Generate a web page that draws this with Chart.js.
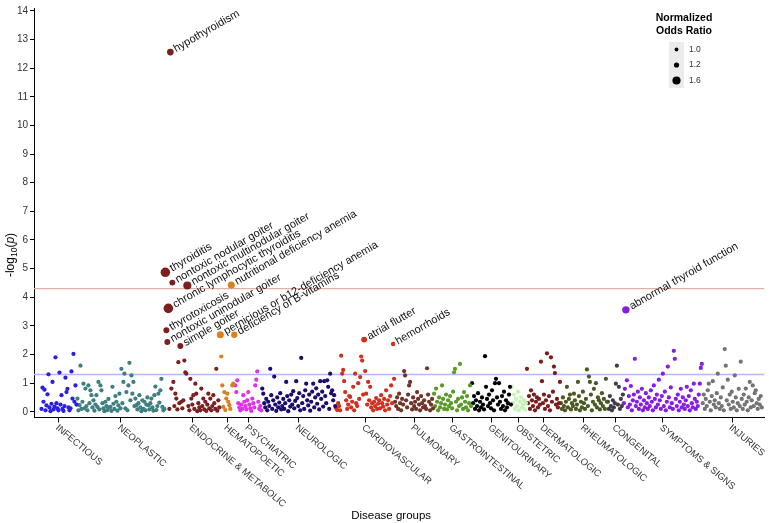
<!DOCTYPE html>
<html>
<head>
<meta charset="utf-8">
<script src="https://cdn.jsdelivr.net/npm/chart.js@4.4.1/dist/chart.umd.min.js"></script>
<style>
  body { margin: 0; background: #fff; }
  canvas { display: block; }
</style>
</head>
<body>
<canvas id="phewasCanvas" width="769" height="523"></canvas>
<script>
// disease groups, in plot order
const groupNames = ["INFECTIOUS", "NEOPLASTIC", "ENDOCRINE & METABOLIC", "HEMATOPOETIC", "PSYCHIATRIC",
  "NEUROLOGIC", "CARDIOVASCULAR", "PULMONARY", "GASTROINTESTINAL", "GENITOURINARY", "OBSTETRIC",
  "DERMATOLOGIC", "RHEUMATOLOGIC", "CONGENITAL", "SYMPTOMS & SIGNS", "INJURIES"];
const groupColors = ["#2b1ee6", "#3f7f7f", "#7b2020", "#d9801f", "#e032e8", "#1c0c70", "#d0301f", "#6e3528",
  "#5a9a28", "#000000", "#c6f3b6", "#7a1c1c", "#4a5a22", "#3e3e44", "#861ce8", "#747474"];

// -log10(p) per phecode, left to right within each group
const infectious = [0.1,0.84,0.35,0.77,0.05,0.22,0.61,1.31,0.15,0.02,0.28,1.04,0.08,0.18,1.9,0.3,0.12,0.05,1.37,0.25,0.58,0.1,0.03,0.2,1.19,0.69,0.8,0.15,0.05,0.12,1.41,0.46,2.02,0.35,0.92,0.25];
const neoplastic = [0.46,0.05,0.23,1.61,0.1,0.35,0.98,0.12,0.81,0.2,0.05,0.92,0.3,0.75,0.58,0.15,0.4,0.04,0.25,0.58,0.17,1.04,0.08,0.92,0.75,0.3,0.12,0.02,0.35,0.2,0.06,0.45,0.15,0.17,0.03,0.87,0.28,0.1,0.55,0.35,0.04,0.22,0.63,0.12,1.5,0.3,1.04,1.33,0.12,0.69,0.05,0.92,1.71,0.4,1.27,0.63,1.04,0.2,0.46,0.23,0.08,0.3,0.58,0.15,0.02,0.4,0.1,0.35,0.05,0.25,0.5,0.23,0.08,0.3,0.46,0.15,0.04,0.58,0.88,0.06,0.2,0.63,0.32,0.75,1.15,0.17,0.05,0.1];
const endocrine = [4.87,2.85,2.44,3.61,0.1,12.56,0.81,4.51,1.04,0.2,0.63,0.46,0.08,1.73,0.3,2.30,0.35,0.12,0.4,1.79,1.38,1.33,4.41,0.2,0.05,1.15,0.46,0.25,0.58,0.1,0.98,0.63,0.02,0.3,0.15,0.05,0.81,0.2,0.46,0.08,0.35,0.03,0.25,0.63,0.12,0.46,0.05,0.2,0.58,0.3,0.1,1.5,0.04,0.4,0.15];
const hematopoetic = [2.69,1.93,0.92,0.17,0.69,0.06,0.46,0.63,0.35,0.23,0.1,4.43,0.92,0.98,2.69];
const psychiatric = [0.92,0.69,1.1,0.3,0.15,0.05,0.25,0.1,0.58,0.35,0.2,0.08,0.4,0.69,0.25,0.12,0.03,0.46,0.3,0.15,0.92,1.12,1.41,0.35,0.1,0.2,0.05];
const neurologic = [0.81,0.63,0.3,0.15,0.45,0.05,0.35,0.2,1.5,0.58,0.1,0.4,1.23,0.25,0.03,0.5,0.15,0.32,0.65,0.08,0.2,0.45,0.1,0.3,1.04,0.55,0.02,0.4,0.18,0.6,0.25,0.72,0.12,0.38,1.07,0.48,0.2,0.65,0.05,1.88,0.3,0.55,0.1,0.75,0.98,0.4,0.22,0.6,0.04,0.35,0.7,0.98,0.15,0.5,0.82,0.28,0.6,0.08,1.07,0.45,0.7,0.18,1.07,0.55,0.3,1.1,0.87,0.1,1.33,0.65,0.75,0.4,0.58,0.2];
const cardiovascular = [0.12,0.06,0.3,0.2,0.05,1.96,1.33,1.46,1.07,0.69,0.4,0.1,0.25,0.55,0.52,0.15,0.35,0.87,0.05,1.33,0.3,0.2,1.0,0.45,1.21,1.93,1.79,0.6,2.52,1.42,0.63,0.25,1.04,0.4,0.87,0.15,0.3,0.05,0.35,0.2,0.48,0.1,0.28,0.4,0.12,0.58,0.3,0.18,0.45,0.05,0.75,0.25,0.4,0.1,0.55,0.92,0.3,2.37,1.15];
const pulmonary = [0.35,0.2,0.5,0.1,0.63,0.3,0.05,0.45,0.25,1.42,1.27,0.4,0.15,0.6,0.92,1.04,0.3,0.08,0.5,0.2,0.35,0.1,0.69,0.45,0.25,0.05,0.55,0.3,0.15,0.4,0.2,0.1,1.52,0.6,0.35,0.05,0.25,0.45,0.12];
const gastrointestinal = [0.63,0.2,0.81,0.35,0.05,0.5,0.15,0.3,0.92,0.45,0.1,0.25,0.6,0.08,0.4,0.2,0.55,0.3,0.12,0.7,1.38,1.5,0.35,0.05,0.45,0.2,1.67,0.25,0.5,0.1,0.69,0.35,0.15,0.55,0.05,0.3,0.92,0.2];
const genitourinary = [1.0,0.3,0.55,0.1,0.4,0.2,0.65,0.05,0.35,0.15,0.5,0.25,0.08,1.94,0.87,0.45,0.2,0.6,0.3,0.12,0.75,0.4,0.05,1.0,1.15,0.5,0.25,1.0,0.35,0.1,0.55,0.2,0.7,0.05,0.4,0.15,0.3,0.6,0.87,0.25];
const obstetric = [0.87,0.3,0.6,0.1,0.45,0.2,0.7,0.05,0.35,0.5,0.15,0.25,0.4,0.08,0.3];
const dermatologic = [1.5,0.3,0.55,0.1,0.75,0.4,0.2,0.6,0.05,0.35,0.5,0.15,0.45,0.25,1.75,1.07,0.3,0.6,0.1,0.4,2.04,0.2,0.55,0.05,1.9,0.35,0.7,1.58,1.35,0.25,0.45,0.15,0.3,1.04];
const rheumatologic = [0.3,0.1,0.5,0.2,0.05,0.35,0.87,0.15,0.45,0.6,0.08,0.3,0.2,0.63,0.4,0.1,0.25,1.04,0.55,0.05,0.35,0.15,0.7,0.3,0.1,0.45,1.48,0.2,1.23,1.04,0.6,0.05,0.35,0.8,0.25,1.0,0.15,0.5,0.4,0.08,0.3,0.65,0.2,0.45,0.1,1.15,0.35];
const congenital = [0.35,0.1,0.55,0.2,0.05,0.4,0.15,0.3,0.98,1.61,0.25,0.87,0.1,0.45,0.2,0.6];
const symptoms = [0.3,0.8,3.56,1.1,0.15,0.55,0.25,0.9,0.05,0.4,0.6,1.85,0.2,0.35,0.7,0.1,0.5,0.25,0.8,0.05,0.4,0.15,0.65,0.3,0.1,0.5,0.2,0.75,0.35,0.05,0.92,0.45,0.15,0.6,0.25,1.12,0.4,0.1,0.55,1.33,0.2,0.7,0.05,0.35,1.58,0.5,0.15,0.85,0.3,0.1,2.13,1.85,0.45,0.2,0.6,0.05,0.35,0.8,0.15,0.5,0.25,0.1,0.4,0.87,0.2,0.55,0.05,0.75,0.3,0.15,0.98,0.45,0.1,0.35,0.2,0.6,0.98,1.53,1.67];
const injuries = [0.3,0.6,0.1,0.45,0.2,0.75,0.98,0.35,0.05,0.55,1.07,0.25,0.4,0.15,0.65,1.33,0.3,0.1,0.5,0.2,0.85,0.05,2.19,1.61,0.4,1.12,0.25,0.6,0.1,0.7,0.35,0.15,1.27,0.5,0.05,0.3,0.8,0.2,1.75,0.45,0.1,0.6,0.25,0.81,0.35,0.05,0.5,1.04,0.15,0.4,0.92,0.2,0.65,0.75,0.3,0.1,0.45,0.25,0.55,0.15];

const groupValues = [infectious, neoplastic, endocrine, hematopoetic, psychiatric, neurologic, cardiovascular,
  pulmonary, gastrointestinal, genitourinary, obstetric, dermatologic, rheumatologic, congenital, symptoms, injuries];

// labelled phenotypes: group number, position in group, normalized odds ratio
const labelled = [
  { name: "hypothyroidism", group: 2, i: 5, or: 1.4 },
  { name: "thyroiditis", group: 2, i: 0, or: 1.8 },
  { name: "nontoxic nodular goiter", group: 2, i: 7, or: 1.3 },
  { name: "nontoxic multinodular goiter", group: 2, i: 22, or: 1.6 },
  { name: "chronic lymphocytic thyroiditis", group: 2, i: 3, or: 1.8 },
  { name: "thyrotoxicosis", group: 2, i: 1, or: 1.3 },
  { name: "nontoxic uninodular goiter", group: 2, i: 2, or: 1.3 },
  { name: "simple goiter", group: 2, i: 15, or: 1.3 },
  { name: "nutritional deficiency anemia", group: 3, i: 11, or: 1.45 },
  { name: "pernicious or b12-deficiency anemia", group: 3, i: 0, or: 1.45 },
  { name: "deficiency of B-vitamins", group: 3, i: 14, or: 1.35 },
  { name: "atrial flutter", group: 6, i: 28, or: 1.3 },
  { name: "hemorrhoids", group: 6, i: 57, or: 1.1 },
  { name: "abnormal thyroid function", group: 14, i: 2, or: 1.5 }
];
const defaultOR = 1.06;

const significanceLines = [
  { value: 4.3, color: "#e2b0a8" },
  { value: 1.3, color: "#b6b6ff" }
];
const yTicks = [0,1,2,3,4,5,6,7,8,9,10,11,12,13,14];
const legendOR = [1.0, 1.2, 1.6];

const FONT = '"Liberation Sans", Arial, sans-serif';

function sizeFor(or) {
  return 1.9 + (or - 1) * 3.6;
}

let idx = 0;
const groupCenters = [];
const datasets = groupValues.map((vals, g) => {
  const start = idx;
  idx += vals.length;
  groupCenters.push(start + (vals.length - 1) / 2);
  const radii = vals.map((v, i) => {
    const lab = labelled.find(l => l.group === g && l.i === i);
    return sizeFor(lab ? lab.or : defaultOR);
  });
  return {
    label: groupNames[g],
    data: vals.map((v, i) => ({ x: start + i, y: v })),
    backgroundColor: groupColors[g],
    borderWidth: 0,
    pointRadius: radii,
    pointHoverRadius: radii,
    pointBorderWidth: 0
  };
});
const totalPoints = idx;

const decorPlugin = {
  id: "decor",
  beforeDatasetsDraw(chart) {
    const ctx = chart.ctx;
    const area = chart.chartArea;
    const yScale = chart.scales.y;
    ctx.save();
    ctx.lineWidth = 1.4;
    significanceLines.forEach(line => {
      const py = yScale.getPixelForValue(line.value);
      ctx.strokeStyle = line.color;
      ctx.beginPath();
      ctx.moveTo(area.left, py);
      ctx.lineTo(area.right, py);
      ctx.stroke();
    });
    ctx.restore();
  },
  afterDatasetsDraw(chart) {
    const ctx = chart.ctx;
    ctx.save();
    ctx.font = "11px " + FONT;
    ctx.fillStyle = "#111";
    ctx.textBaseline = "middle";
    ctx.textAlign = "left";
    labelled.forEach(l => {
      const el = chart.getDatasetMeta(l.group).data[l.i];
      ctx.save();
      ctx.translate(el.x, el.y);
      ctx.rotate(-30 * Math.PI / 180);
      ctx.fillText(l.name, sizeFor(l.or) + 1.5, 0);
      ctx.restore();
    });
    ctx.restore();
  },
  afterDraw(chart) {
    const ctx = chart.ctx;
    const area = chart.chartArea;
    const xScale = chart.scales.x;

    // group labels under the x axis
    ctx.save();
    ctx.font = "9.5px " + FONT;
    ctx.fillStyle = "#333";
    ctx.textBaseline = "middle";
    ctx.textAlign = "left";
    groupCenters.forEach((c, g) => {
      const px = xScale.getPixelForValue(c);
      ctx.save();
      ctx.translate(px - 2, area.bottom + 9);
      ctx.rotate(40 * Math.PI / 180);
      ctx.fillText(groupNames[g], 0, 0);
      ctx.restore();
    });
    ctx.restore();

    // x title
    ctx.save();
    ctx.font = "11.5px " + FONT;
    ctx.fillStyle = "#000";
    ctx.textAlign = "center";
    ctx.textBaseline = "alphabetic";
    ctx.fillText("Disease groups", (area.left + area.right) / 2 - 8, 519);
    ctx.restore();

    // y title: -log10(p)
    ctx.save();
    ctx.translate(14, 255);
    ctx.rotate(-Math.PI / 2);
    ctx.fillStyle = "#000";
    ctx.textBaseline = "alphabetic";
    const parts = [
      { t: "-log", f: "12px " + FONT, dy: 0 },
      { t: "10", f: "8.5px " + FONT, dy: 3 },
      { t: "(", f: "12px " + FONT, dy: 0 },
      { t: "p", f: "italic 12px " + FONT, dy: 0 },
      { t: ")", f: "12px " + FONT, dy: 0 }
    ];
    let w = 0;
    parts.forEach(p => { ctx.font = p.f; w += ctx.measureText(p.t).width; });
    let cx = -w / 2;
    parts.forEach(p => {
      ctx.font = p.f;
      ctx.fillText(p.t, cx, p.dy);
      cx += ctx.measureText(p.t).width;
    });
    ctx.restore();

    // size legend
    ctx.save();
    ctx.fillStyle = "#000";
    ctx.font = "bold 10.5px " + FONT;
    ctx.textAlign = "center";
    ctx.textBaseline = "middle";
    ctx.fillText("Normalized", 684, 18);
    ctx.fillText("Odds Ratio", 684, 31);
    ctx.fillStyle = "#ebebeb";
    ctx.fillRect(669, 42, 15, 46);
    legendOR.forEach((or, k) => {
      const ky = 49.5 + k * 15.5;
      ctx.fillStyle = "#000";
      ctx.beginPath();
      ctx.arc(676.5, ky, sizeFor(or), 0, 2 * Math.PI);
      ctx.fill();
      ctx.fillStyle = "#333";
      ctx.font = "8.5px " + FONT;
      ctx.textAlign = "left";
      ctx.fillText(or.toFixed(1), 689, ky);
    });
    ctx.restore();
  }
};

const chart = new Chart(document.getElementById("phewasCanvas"), {
  type: "scatter",
  data: { datasets: datasets },
  options: {
    responsive: false,
    animation: false,
    events: [],
    layout: { padding: { left: 0, top: 4.4, right: 4, bottom: 0 } },
    plugins: {
      legend: { display: false },
      tooltip: { enabled: false }
    },
    scales: {
      x: {
        type: "linear",
        min: -7.5,
        max: totalPoints + 1.5,
        afterBuildTicks: scale => { scale.ticks = groupCenters.map(v => ({ value: v })); },
        afterFit: scale => { scale.height = 105.5; },
        ticks: { display: false },
        grid: { drawOnChartArea: false, color: "#000", tickLength: 5, lineWidth: 1 },
        border: { display: true, color: "#000", width: 1 }
      },
      y: {
        type: "linear",
        min: -0.2,
        max: 14.1,
        afterBuildTicks: scale => { scale.ticks = yTicks.map(v => ({ value: v })); },
        afterFit: scale => { scale.width = 34; },
        ticks: {
          color: "#333",
          font: { family: FONT, size: 10 },
          padding: 2,
          callback: v => String(v)
        },
        grid: { drawOnChartArea: false, color: "#000", tickLength: 4, lineWidth: 1 },
        border: { display: true, color: "#000", width: 1 }
      }
    }
  },
  plugins: [decorPlugin]
});
</script>
</body>
</html>
